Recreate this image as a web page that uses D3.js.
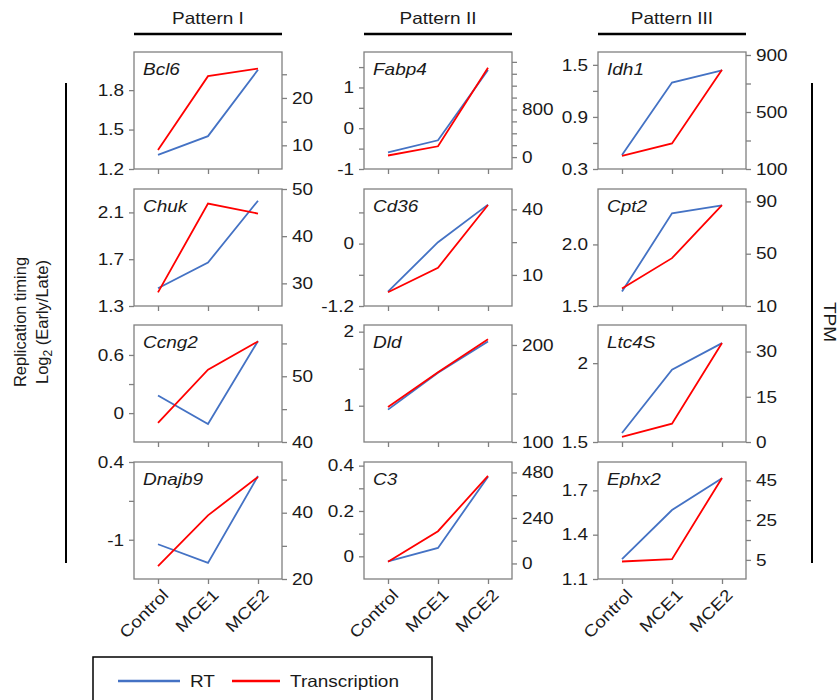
<!DOCTYPE html>
<html>
<head>
<meta charset="utf-8">
<script src="https://cdn.jsdelivr.net/npm/d3@7"></script>
<style>
  body { margin: 0; background: #fff; }
  svg text { font-family: "Liberation Sans", Arial, sans-serif; fill: #1a1a1a; }
</style>
</head>
<body>
<div id="chart"></div>
<script>
// categories and panels (row-major: 4 rows x 3 patterns)
const categories = ["Control", "MCE1", "MCE2"];
const patterns = ["Pattern I", "Pattern II", "Pattern III"];
const genes = ["Bcl6", "Fabp4", "Idh1", "Chuk", "Cd36", "Cpt2",
               "Ccng2", "Dld", "Ltc4S", "Dnajb9", "C3", "Ephx2"];

// replication timing, log2(Early/Late)
const rtValues = [
  [1.307, 1.45, 1.955], [-0.595, -0.296, 1.427], [0.462, 1.296, 1.436],
  [1.452, 1.671, 2.2], [-0.924, 0.027, 0.75], [1.617, 2.252, 2.317],
  [0.181, -0.113, 0.744], [0.947, 1.445, 1.867], [1.557, 1.958, 2.127],
  [-1.081, -1.418, 0.148], [-0.022, 0.037, 0.351], [1.235, 1.567, 1.782]
];
// transcription, TPM
const tpmValues = [
  [9.0, 24.6, 26.2], [27, 182, 1501], [192, 279, 796],
  [28.1, 46.9, 44.8], [2.1, 13.3, 42], [23.4, 46.6, 87.1],
  [42.9, 51.0, 55.3], [136, 172, 206], [1.7, 6.1, 32.8],
  [23.9, 39.2, 50.8], [9, 170, 462], [4.2, 5.4, 46.2]
];

// axis extents and tick labels
const rtDomains = [
  [1.2, 2.09], [-1, 1.87], [0.3, 1.648],
  [1.3, 2.30], [-1.2, 1.05], [1.5, 2.45],
  [-0.298, 0.909], [0.51, 2.09], [1.5, 2.242],
  [-1.707, 0.4], [-0.1, 0.416], [1.1, 1.892]
];
const rtLabels = [
  ["1.2", "1.5", "1.8"], ["-1", "0", "1"], ["0.3", "0.9", "1.5"],
  ["1.3", "1.7", "2.1"], ["-1.2", "0"], ["1.5", "2.0"],
  ["0", "0.6"], ["1", "2"], ["1.5", "2"],
  ["-1", "0.4"], ["0", "0.2", "0.4"], ["1.1", "1.4", "1.7"]
];
const rtMinor = [
  [], [-0.5, 0.5, 1.5], [0.6, 1.2],
  [], [-0.6, 0.6], [],
  [0.3], [1.5], [],
  [-0.3], [0.1, 0.3], []
];
const tpmDomains = [
  [5, 29.7], [-200, 1766], [100, 921],
  [25.2, 50], [-4.2, 49.3], [10, 99.5],
  [40, 57.8], [100, 220.6], [0, 38.8],
  [20, 55.3], [-82, 535], [-4.6, 54.2]
];
const tpmLabels = [
  ["10", "20"], ["0", "800"], ["100", "500", "900"],
  ["30", "40", "50"], ["10", "40"], ["10", "50", "90"],
  ["40", "50"], ["100", "200"], ["0", "15", "30"],
  ["20", "40"], ["0", "240", "480"], ["5", "25", "45"]
];
const tpmMinor = [
  [15, 25], [200, 400, 600, 1000, 1200, 1400, 1600], [300, 700],
  [], [25], [],
  [45, 55], [150], [],
  [30, 50], [120, 360], [15, 35]
];

const width = 840, height = 700;
const colX = [134, 364, 598], panelW = 148;
const rowY = [52, 189, 325, 462], panelH = 117;
const blue = "#4472c4", red = "#ff0000", frame = "#808080";
const fs = 16.5;

const svg = d3.select("#chart").append("svg")
    .attr("width", width)
    .attr("height", height);

// pattern headers
patterns.forEach((p, i) => {
    const cx = colX[i] + panelW / 2;
    svg.append("text")
        .attr("class", "wide")
        .attr("x", cx).attr("y", 24)
        .attr("text-anchor", "middle")
        .attr("font-size", fs)
        .text(p);
    svg.append("line")
        .attr("x1", colX[i]).attr("x2", colX[i] + panelW)
        .attr("y1", 34).attr("y2", 34)
        .attr("stroke", "#000").attr("stroke-width", 2.5);
});

genes.forEach((gene, k) => {
    const col = k % 3, row = Math.floor(k / 3);
    const x0 = colX[col], y0 = rowY[row];
    const g = svg.append("g");

    const x = d3.scalePoint()
        .domain(categories)
        .range([x0, x0 + panelW])
        .padding(0.48);
    const yL = d3.scaleLinear().domain(rtDomains[k]).range([y0 + panelH, y0]);
    const yR = d3.scaleLinear().domain(tpmDomains[k]).range([y0 + panelH, y0]);

    g.append("rect")
        .attr("x", x0).attr("y", y0)
        .attr("width", panelW).attr("height", panelH)
        .attr("fill", "none").attr("stroke", frame).attr("stroke-width", 1.3);

    // left axis
    const left = g.append("g")
        .attr("transform", `translate(${x0},0)`)
        .call(d3.axisLeft(yL)
            .tickValues(rtLabels[k].map(Number).concat(rtMinor[k]))
            .tickFormat(v => {
                const i = rtLabels[k].map(Number).indexOf(v);
                return i >= 0 ? rtLabels[k][i] : "";
            })
            .tickSize(5).tickPadding(5));
    // bottom axis
    const bottom = g.append("g")
        .attr("transform", `translate(0,${y0 + panelH})`)
        .call(d3.axisBottom(x).tickSize(5).tickFormat(row === 3 ? null : ""));
    // right axis
    const right = g.append("g")
        .attr("transform", `translate(${x0 + panelW},0)`)
        .call(d3.axisRight(yR)
            .tickValues(tpmLabels[k].map(Number).concat(tpmMinor[k]))
            .tickFormat(v => {
                const i = tpmLabels[k].map(Number).indexOf(v);
                return i >= 0 ? tpmLabels[k][i] : "";
            })
            .tickSize(5).tickPadding(5));

    [left, bottom, right].forEach(a => {
        a.select(".domain").remove();
        a.selectAll(".tick line").attr("stroke", frame).attr("stroke-width", 1.3);
        a.selectAll(".tick text").attr("class", "wide")
            .attr("font-size", fs).attr("fill", "#1a1a1a");
    });

    if (row === 3) {
        bottom.selectAll(".tick text")
            .attr("text-anchor", "end")
            .attr("dy", "0.35em")
            .attr("transform", "translate(7,13) rotate(-45)")
            .attr("x", 0).attr("y", 0);
    }

    const line = d3.line()
        .x((d, i) => x(categories[i]));

    g.append("path")
        .datum(rtValues[k])
        .attr("fill", "none").attr("stroke", blue).attr("stroke-width", 1.8)
        .attr("d", line.y(d => yL(d)));
    g.append("path")
        .datum(tpmValues[k])
        .attr("fill", "none").attr("stroke", red).attr("stroke-width", 1.8)
        .attr("d", line.y(d => yR(d)));

    g.append("text")
        .attr("class", "wide")
        .attr("x", x0 + 9).attr("y", y0 + 23)
        .attr("font-size", fs).attr("font-style", "italic")
        .text(gene);
});

// side brackets and titles
[66, 812].forEach(xv => {
    svg.append("line")
        .attr("x1", xv).attr("x2", xv)
        .attr("y1", 83).attr("y2", 563)
        .attr("stroke", "#000").attr("stroke-width", 2);
});
const leftTitle = svg.append("text")
    .attr("transform", "translate(0,322) rotate(-90)")
    .attr("text-anchor", "middle")
    .attr("font-size", fs);
leftTitle.append("tspan").attr("x", 0).attr("y", 26).text("Replication timing");
const l2 = leftTitle.append("tspan").attr("x", 0).attr("y", 48);
l2.append("tspan").text("Log");
l2.append("tspan").attr("font-size", 12).attr("dy", 4).text("2");
l2.append("tspan").attr("dy", -4).text(" (Early/Late)");

svg.append("text")
    .attr("class", "wide")
    .attr("transform", "translate(824,322) rotate(90)")
    .attr("text-anchor", "middle")
    .attr("font-size", fs)
    .text("TPM");

// legend
const legend = svg.append("g");
legend.append("rect")
    .attr("x", 93).attr("y", 657)
    .attr("width", 339).attr("height", 60)
    .attr("fill", "none").attr("stroke", "#000").attr("stroke-width", 1.5);
const legendItems = [
    { label: "RT", color: blue, x1: 118, x2: 180 },
    { label: "Transcription", color: red, x1: 232, x2: 280 }
];
legendItems.forEach(d => {
    legend.append("line")
        .attr("x1", d.x1).attr("x2", d.x2)
        .attr("y1", 681).attr("y2", 681)
        .attr("stroke", d.color).attr("stroke-width", 2.5);
    legend.append("text")
        .attr("class", "wide")
        .attr("x", d.x2 + 10).attr("y", 687)
        .attr("font-size", fs)
        .text(d.label);
});

// the reference type is set a little wider than Arial
svg.selectAll("text.wide").each(function () {
    const len = this.getComputedTextLength();
    if (len > 0) {
        d3.select(this)
            .attr("textLength", len * 1.15)
            .attr("lengthAdjust", "spacingAndGlyphs");
    }
});
</script>
</body>
</html>
